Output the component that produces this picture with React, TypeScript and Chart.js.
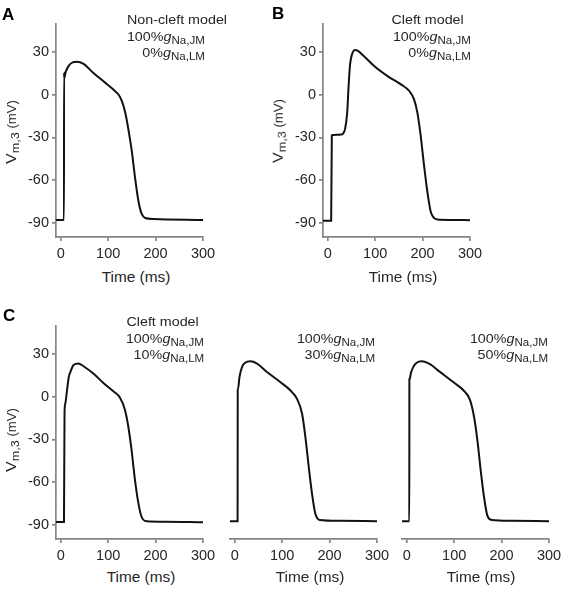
import React, { useEffect, useRef } from "react";
import { Chart, registerables } from "chart.js";

Chart.register(...registerables);

// ---- data (time in ms, membrane potential in mV) ----
const timeA = [-10, 6.8, 7, 7.6, 10, 16, 25, 34, 48, 69, 90, 111, 122, 129, 136, 143, 150, 157, 164, 171, 178, 196, 300];
const vmA = [-88, -88, 15.7, 11.8, 15.5, 20, 22.8, 23.2, 21.8, 15.3, 9.5, 3.7, 0, -4.4, -12.5, -25, -40, -59, -75, -84, -86.6, -87.3, -88];

const timeB = [-10, 7.2, 8.6, 10, 14, 28, 31.7, 36.6, 41, 44, 47, 50.7, 57.7, 63, 77, 99, 127, 155, 172.5, 182, 189, 196, 203, 210, 217, 224, 232, 260, 300];
const vmB = [-88.5, -88.5, -28.5, -28.3, -28.2, -28, -27.5, -24, -12.5, 6, 21, 28, 31.5, 31, 26.9, 19.9, 13, 7.2, 2.5, -3.2, -12.5, -28.7, -49.5, -68, -82, -86.6, -87.7, -88, -88.2];

const timeC1 = [-10, 6.8, 8, 9.5, 13, 17, 21, 27, 37, 48, 70, 90, 111, 125, 135, 142, 149, 156, 163, 170, 181, 220, 300];
const vmC1 = [-88, -88, -11, -5, 4, 14, 18, 22.4, 23.5, 21.5, 16, 9.7, 3.9, -0.7, -8.8, -20, -36.5, -57, -73.4, -84, -87.5, -87.8, -88.2];

const timeC2 = [-10, 6, 6.3, 7, 10, 15.5, 22, 33, 47, 68, 96, 117, 131, 142, 149, 156, 163, 170, 179, 220, 300];
const vmC2 = [-87.7, -87.7, 2.8, 4, 12, 19, 21.8, 22.8, 21.2, 15.5, 8.5, 2.8, -3, -13.4, -29.5, -50, -68.8, -82.6, -86.8, -87.4, -87.7];

const timeC3 = [-10, 5.4, 5.6, 6.2, 9, 14, 21, 31.6, 49, 70, 98, 119.5, 133.5, 142, 149, 156, 163, 170, 179, 220, 300];
const vmC3 = [-87.7, -87.7, 10.8, 10.5, 15, 19, 21.8, 22.8, 20.8, 15.5, 8.5, 2.8, -4, -15.7, -31.8, -52.6, -71, -83.8, -86.8, -87.4, -87.7];

const xTicks = [0, 100, 200, 300];
const yTicks = [-90, -60, -30, 0, 30];
const xRange = [-10, 300];
const yRange = [-100, 50];

const FONT = "'Liberation Sans', Arial, Helvetica, sans-serif";
const AXIS_COLOR = "#858585";
const TEXT_COLOR = "#262626";

const Y_AXIS_W = 50;
const PAD_TOP = 8;
const PAD_RIGHT = 18;
const X_AXIS_H = 30;

type PanelProps = {
  left: number;
  top: number;
  width: number;
  height: number;
  time: number[];
  vm: number[];
  showY: boolean;
};

function Panel({ left, top, width, height, time, vm, showY }: PanelProps) {
  const ref = useRef<HTMLCanvasElement | null>(null);
  const cw = Y_AXIS_W + width + PAD_RIGHT;
  const ch = PAD_TOP + height + X_AXIS_H;

  useEffect(() => {
    if (!ref.current) return;
    const data = time.map((t, i) => ({ x: t, y: vm[i] }));
    const chart = new Chart(ref.current, {
      type: "line",
      data: {
        datasets: [
          {
            data,
            borderColor: "#111111",
            borderWidth: 2,
            pointRadius: 0,
            cubicInterpolationMode: "monotone",
            fill: false,
          },
        ],
      },
      options: {
        animation: false,
        responsive: false,
        maintainAspectRatio: false,
        devicePixelRatio: 1,
        layout: {
          padding: { left: 0, top: PAD_TOP, right: PAD_RIGHT, bottom: 0 },
        },
        plugins: { legend: { display: false }, tooltip: { enabled: false }, title: { display: false } },
        scales: {
          x: {
            type: "linear",
            min: xRange[0],
            max: xRange[1],
            afterBuildTicks: (scale: any) => {
              scale.ticks = xTicks.map((v) => ({ value: v }));
            },
            afterFit: (scale: any) => {
              scale.height = X_AXIS_H;
            },
            border: { display: true, color: AXIS_COLOR, width: 1.7 },
            grid: { display: true, drawOnChartArea: false, drawTicks: true, tickLength: 4, color: AXIS_COLOR, lineWidth: 1.7 },
            ticks: {
              autoSkip: false,
              maxRotation: 0,
              padding: 4,
              color: TEXT_COLOR,
              font: { family: FONT, size: 14.5 },
              callback: (v: any) => String(v),
            },
          },
          y: {
            type: "linear",
            display: showY,
            min: yRange[0],
            max: yRange[1],
            afterBuildTicks: (scale: any) => {
              scale.ticks = yTicks.map((v) => ({ value: v }));
            },
            afterFit: (scale: any) => {
              scale.width = Y_AXIS_W;
            },
            border: { display: true, color: AXIS_COLOR, width: 1.7 },
            grid: { display: true, drawOnChartArea: false, drawTicks: true, tickLength: 4, color: AXIS_COLOR, lineWidth: 1.7 },
            ticks: {
              autoSkip: false,
              padding: 3,
              color: TEXT_COLOR,
              font: { family: FONT, size: 14.5 },
              callback: (v: any) => String(v),
            },
          },
        },
      },
    } as any);
    return () => chart.destroy();
  }, [time, vm, showY]);

  return (
    <canvas
      ref={ref}
      width={cw}
      height={ch}
      style={{
        position: "absolute",
        left: left - Y_AXIS_W,
        top: top - PAD_TOP,
        width: cw,
        height: ch,
      }}
    />
  );
}

const textBase: React.CSSProperties = {
  position: "absolute",
  fontFamily: FONT,
  color: TEXT_COLOR,
  whiteSpace: "nowrap",
  lineHeight: 1,
};

function RightText({ right, baseline, size, children }: { right: number; baseline: number; size: number; children: React.ReactNode }) {
  return (
    <div
      style={{
        ...textBase,
        right: 562 - right,
        top: baseline - 0.8465 * size,
        fontSize: size,
        transform: "scaleX(1.1)",
        transformOrigin: "right center",
      }}
    >
      {children}
    </div>
  );
}

function CenterText({ cx, baseline, size, children }: { cx: number; baseline: number; size: number; children: React.ReactNode }) {
  return (
    <div
      style={{
        ...textBase,
        left: cx,
        top: baseline - 0.8465 * size,
        fontSize: size,
        transform: "translateX(-50%) scaleX(1.1)",
      }}
    >
      {children}
    </div>
  );
}

const subStyle: React.CSSProperties = { fontSize: 10.5, position: "relative", top: 3 };

function GLine({ pct, sub }: { pct: string; sub: string }) {
  return (
    <>
      {pct}
      <i>g</i>
      <span style={subStyle}>{sub}</span>
    </>
  );
}

function YLabel({ cx, cy }: { cx: number; cy: number }) {
  return (
    <div
      style={{
        ...textBase,
        left: cx,
        top: cy,
        fontSize: 14.5,
        transform: "translate(-50%, -50%) rotate(-90deg) scaleX(1.1)",
      }}
    >
      V<span style={{ fontSize: 11.5, position: "relative", top: 3 }}>m,3</span>
      <span style={{ fontSize: 12 }}> (mV)</span>
    </div>
  );
}

function Letter({ x, baseline, children }: { x: number; baseline: number; children: React.ReactNode }) {
  return (
    <div
      style={{
        ...textBase,
        left: x,
        top: baseline - 0.8465 * 17,
        fontSize: 17,
        fontWeight: "bold",
        color: "#000",
      }}
    >
      {children}
    </div>
  );
}

export default function App() {
  return (
    <div style={{ position: "absolute", left: 0, top: 0, width: 562, height: 590, background: "#fff", overflow: "hidden" }}>
      <Panel left={56} top={20} width={147} height={217} time={timeA} vm={vmA} showY={true} />
      <Panel left={323} top={20} width={147} height={217} time={timeB} vm={vmB} showY={true} />
      <Panel left={56} top={322} width={147} height={217} time={timeC1} vm={vmC1} showY={true} />
      <Panel left={230} top={322} width={147} height={217} time={timeC2} vm={vmC2} showY={false} />
      <Panel left={402} top={322} width={147} height={217} time={timeC3} vm={vmC3} showY={false} />

      <Letter x={2} baseline={20}>A</Letter>
      <Letter x={272} baseline={19}>B</Letter>
      <Letter x={3} baseline={321}>C</Letter>

      <YLabel cx={11} cy={132} />
      <YLabel cx={278} cy={131} />
      <YLabel cx={11} cy={440} />

      <RightText right={227} baseline={24} size={13}>Non-cleft model</RightText>
      <RightText right={205} baseline={41} size={13}><GLine pct="100%" sub="Na,JM" /></RightText>
      <RightText right={205} baseline={57} size={13}><GLine pct="0%" sub="Na,LM" /></RightText>

      <RightText right={464} baseline={24} size={13}>Cleft model</RightText>
      <RightText right={471} baseline={41} size={13}><GLine pct="100%" sub="Na,JM" /></RightText>
      <RightText right={471} baseline={57} size={13}><GLine pct="0%" sub="Na,LM" /></RightText>

      <RightText right={199} baseline={326} size={13}>Cleft model</RightText>
      <RightText right={204} baseline={343} size={13}><GLine pct="100%" sub="Na,JM" /></RightText>
      <RightText right={204} baseline={359} size={13}><GLine pct="10%" sub="Na,LM" /></RightText>

      <RightText right={375} baseline={343} size={13}><GLine pct="100%" sub="Na,JM" /></RightText>
      <RightText right={375} baseline={359} size={13}><GLine pct="30%" sub="Na,LM" /></RightText>

      <RightText right={548} baseline={343} size={13}><GLine pct="100%" sub="Na,JM" /></RightText>
      <RightText right={548} baseline={359} size={13}><GLine pct="50%" sub="Na,LM" /></RightText>

      <CenterText cx={136} baseline={282} size={14}>Time (ms)</CenterText>
      <CenterText cx={403} baseline={282} size={14}>Time (ms)</CenterText>
      <CenterText cx={141} baseline={582} size={14}>Time (ms)</CenterText>
      <CenterText cx={310} baseline={582} size={14}>Time (ms)</CenterText>
      <CenterText cx={481} baseline={582} size={14}>Time (ms)</CenterText>
    </div>
  );
}
